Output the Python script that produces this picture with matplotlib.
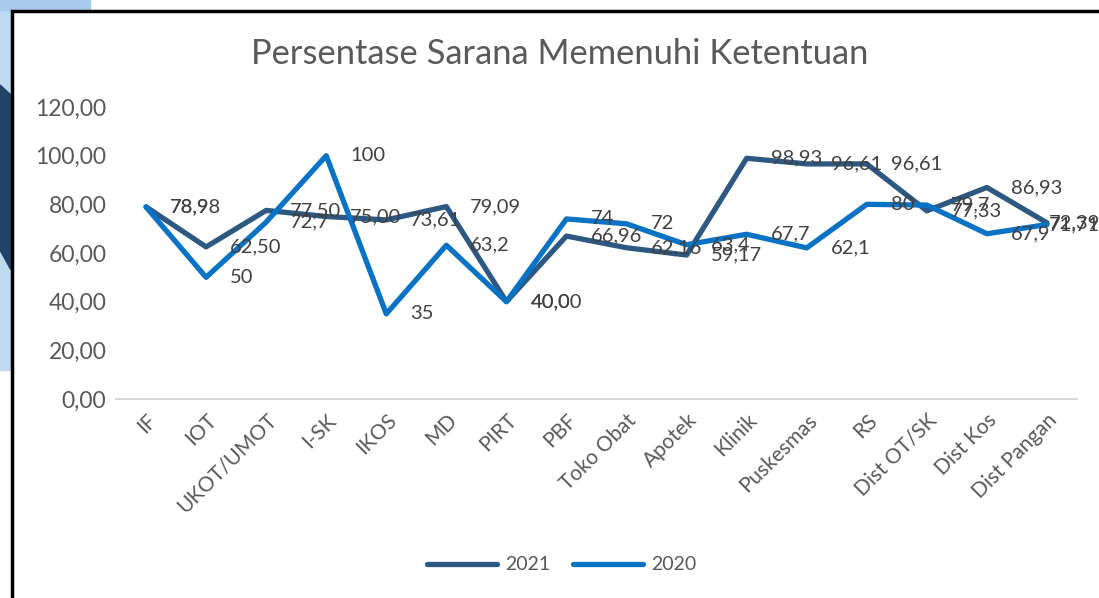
import matplotlib
matplotlib.use("Agg")
import matplotlib.pyplot as plt
from matplotlib.patches import Rectangle, Polygon
from matplotlib.lines import Line2D

# ─── Data ────────────────────────────────────────────────────────────────────
categories = ["IF", "IOT", "UKOT/UMOT", "I-SK", "IKOS", "MD", "PIRT", "PBF",
              "Toko Obat", "Apotek", "Klinik", "Puskesmas", "RS", "Dist OT/SK",
              "Dist Kos", "Dist Pangan"]
values_2021 = [78.98, 62.50, 77.50, 75.00, 73.61, 79.09, 40.00, 66.96,
               62.16, 59.17, 98.93, 96.61, 96.61, 77.33, 86.93, 72.39]
values_2020 = [78.9, 50, 72.7, 100, 35, 63.2, 40.0, 74,
               72, 63.4, 67.7, 62.1, 80, 79.7, 67.9, 71.71]
labels_2021 = ["78,98", "62,50", "77,50", "75,00", "73,61", "79,09", "40,00", "66,96",
               "62,16", "59,17", "98,93", "96,61", "96,61", "77,33", "86,93", "72,39"]
labels_2020 = ["78,9", "50", "72,7", "100", "35", "63,2", "40,0", "74",
               "72", "63,4", "67,7", "62,1", "80", "79,7", "67,9", "71,71"]
y_ticks = [0, 20, 40, 60, 80, 100, 120]
y_tick_labels = ["0,00", "20,00", "40,00", "60,00", "80,00", "100,00", "120,00"]

# ─── Style ───────────────────────────────────────────────────────────────────
FONT = "Lato"
C_2021 = "#2D5882"
C_2020 = "#0872C4"
TEXT = "#595959"
LABEL = "#404040"
W, H = 1099, 598

plt.rcParams["font.family"] = [FONT, "DejaVu Sans"]


def draw_background(fig):
    # slide decoration on the left edge + black chart frame (all behind the axes)
    fig.patches.append(Rectangle((0, 1 - 370 / H), 11 / W, 370 / H,
                                 transform=fig.transFigure, color="#BFD9F0", zorder=-3))
    fig.patches.append(Rectangle((0, 1 - 10 / H), 90 / W, 10 / H,
                                 transform=fig.transFigure, color="#A9CCEC", zorder=-3))
    fig.patches.append(Polygon([(0, 1 - 85 / H), (11 / W, 1 - 95 / H),
                                (11 / W, 1 - 270 / H), (0, 1 - 250 / H)],
                               closed=True, transform=fig.transFigure,
                               color="#1F4468", zorder=-2))
    fig.patches.append(Rectangle((12 / W, -0.1), 1.2, 1.1 - 11 / H,
                                 transform=fig.transFigure, facecolor="white",
                                 edgecolor="black", lw=2.5, zorder=-1))


def add_labels(ax, x, values, labels):
    # Excel style "right" data labels; the last one gets pulled back inside the frame
    for i, (xi, v, t) in enumerate(zip(x, values, labels)):
        dx = 2 if i == len(x) - 1 else 24
        ax.annotate(t, (xi, v), xytext=(dx, 0), textcoords="offset pixels",
                    ha="left", va="center", fontsize=14.5, color=LABEL, zorder=4,
                    annotation_clip=False)


def main():
    fig = plt.figure(figsize=(W / 100, H / 100), dpi=100)
    draw_background(fig)

    ax = fig.add_axes([116 / W, 1 - 399 / H, (1077 - 116) / W, (399 - 107) / H])
    ax.set_facecolor("none")
    x = list(range(len(categories)))

    ax.plot(x, values_2021, color=C_2021, lw=3.8, solid_joinstyle="round",
            solid_capstyle="round", label="2021", zorder=3)
    ax.plot(x, values_2020, color=C_2020, lw=3.8, solid_joinstyle="round",
            solid_capstyle="round", label="2020", zorder=3)

    add_labels(ax, x, values_2021, labels_2021)
    add_labels(ax, x, values_2020, labels_2020)

    ax.set_xlim(-0.5, len(categories) - 0.5)
    ax.set_ylim(0, 120)
    ax.set_yticks(y_ticks)
    ax.set_yticklabels(y_tick_labels, fontsize=16.5, color=TEXT)
    ax.set_xticks(x)
    ax.set_xticklabels(categories, rotation=45, ha="right", rotation_mode="anchor",
                       fontsize=15, color=TEXT)
    ax.tick_params(axis="both", length=0)
    ax.tick_params(axis="y", pad=7)
    ax.tick_params(axis="x", pad=8)
    for side in ["top", "right", "left"]:
        ax.spines[side].set_visible(False)
    ax.spines["bottom"].set_color("#D9D9D9")
    ax.spines["bottom"].set_linewidth(1.5)

    fig.text(0.509, 1 - 54 / H, "Persentase Sarana Memenuhi Ketentuan",
             ha="center", va="center", fontsize=24.8, color=TEXT)

    handles = [Line2D([], [], color=C_2021, lw=3.8, solid_capstyle="round"),
               Line2D([], [], color=C_2020, lw=3.8, solid_capstyle="round")]
    fig.legend(handles, ["2021", "2020"], loc="center", bbox_to_anchor=(0.511, 1 - 565 / H),
               ncol=2, frameon=False, fontsize=14, handlelength=3.6,
               columnspacing=1.2, handletextpad=0.4, labelcolor=TEXT)

    fig.savefig("out.png", dpi=100)


if __name__ == "__main__":
    main()
